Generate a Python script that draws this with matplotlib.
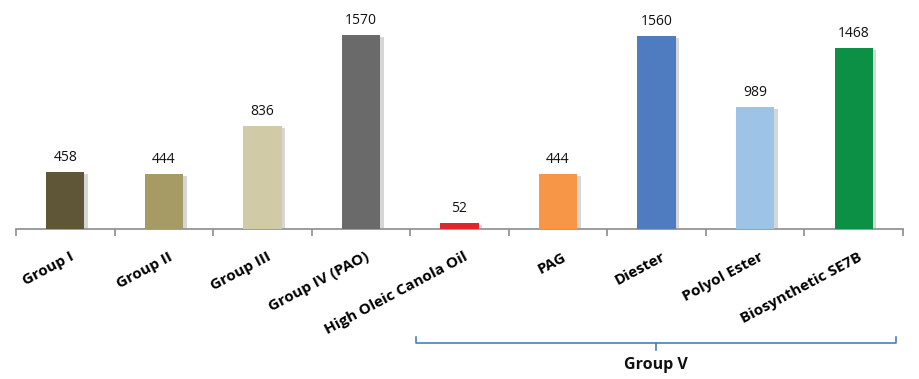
import matplotlib
matplotlib.use("Agg")
import matplotlib.pyplot as plt
import matplotlib.patheffects as pe
import matplotlib.transforms as mtransforms
import numpy as np

categories = ["Group I", "Group II", "Group III", "Group IV (PAO)", "High Oleic Canola Oil",
              "PAG", "Diester", "Polyol Ester", "Biosynthetic SE7B"]
values = [458, 444, 836, 1570, 52, 444, 1560, 989, 1468]
colors = ["#5e5636", "#a69b64", "#d1caa7", "#6a6a6a", "#e0252b",
          "#f79646", "#4f7bc1", "#9dc3e6", "#0b9046"]
group_label = "Group V"

W, H = 919, 379
fig = plt.figure(figsize=(W / 100, H / 100), dpi=100)
ax = fig.add_axes([16 / W, (H - 229) / H, (903 - 16) / W, (229 - 10) / H])

x = np.arange(len(categories))
bars = ax.bar(x, values, width=0.39, color=colors, zorder=3)
for b in bars:
    b.set_path_effects([pe.SimplePatchShadow(offset=(2.5, -1.5), shadow_rgbFace="#999999", alpha=0.4),
                        pe.Normal()])

for xi, v in zip(x, values):
    ax.annotate(str(v), (xi, v), xytext=(0, 5), textcoords="offset points",
                ha="center", va="bottom", fontsize=10, family="Open Sans", color="#111111")

ax.set_xlim(-0.5, len(categories) - 0.5)
ax.set_ylim(0, 1772)
ax.set_yticks([])
for s in ["top", "right", "left"]:
    ax.spines[s].set_visible(False)
ax.spines["bottom"].set_color("#8c8c8c")
ax.spines["bottom"].set_linewidth(1.2)

ax.set_xticks(x)
ax.set_xticklabels(categories, rotation=28, ha="right", rotation_mode="anchor",
                   fontsize=11, fontweight="bold", family="Open Sans")
ax.tick_params(axis="x", which="major", length=0, pad=15)
ax.set_xticks(np.arange(len(categories) + 1) - 0.5, minor=True)
ax.tick_params(axis="x", which="minor", length=5, color="#8c8c8c", width=1.2)
offset = mtransforms.ScaledTranslation(4 / 100, 0, fig.dpi_scale_trans)
for lab in ax.get_xticklabels():
    lab.set_transform(lab.get_transform() + offset)

# Group V bracket
blend = mtransforms.blended_transform_factory(ax.transData, fig.transFigure)
x0, x1 = 3.56, 8.43
yb = (H - 343) / H
ye = (H - 337) / H
yc = (H - 350) / H
col = "#4a7ebb"
ax.plot([x0, x0, x1, x1], [ye, yb, yb, ye], transform=blend, color=col, lw=1.2, clip_on=False)
xm = (x0 + x1) / 2
ax.plot([xm, xm], [yb, yc], transform=blend, color=col, lw=1.2, clip_on=False)
ax.text(xm, (H - 365) / H, group_label, transform=blend, ha="center", va="center",
        fontsize=11.5, fontweight="bold", family="Open Sans", color="#111111")

fig.savefig("out.png", dpi=100)
